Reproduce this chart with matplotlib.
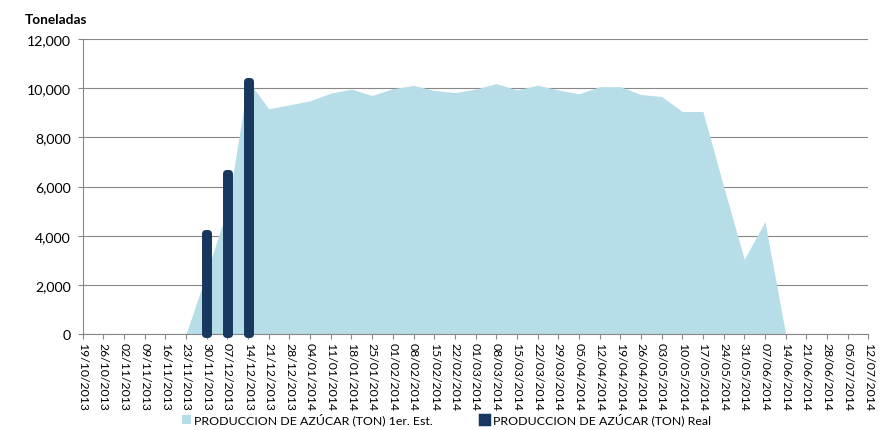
import matplotlib
matplotlib.use('Agg')
import matplotlib.pyplot as plt
from matplotlib.patches import Patch
import numpy as np

plt.rcParams['font.family'] = ['Lato', 'DejaVu Sans']

semanas = ['19/10/2013', '26/10/2013', '02/11/2013', '09/11/2013', '16/11/2013',
           '23/11/2013', '30/11/2013', '07/12/2013', '14/12/2013', '21/12/2013',
           '28/12/2013', '04/01/2014', '11/01/2014', '18/01/2014', '25/01/2014',
           '01/02/2014', '08/02/2014', '15/02/2014', '22/02/2014', '01/03/2014',
           '08/03/2014', '15/03/2014', '22/03/2014', '29/03/2014', '05/04/2014',
           '12/04/2014', '19/04/2014', '26/04/2014', '03/05/2014', '10/05/2014',
           '17/05/2014', '24/05/2014', '31/05/2014', '07/06/2014', '14/06/2014',
           '21/06/2014', '28/06/2014', '05/07/2014', '12/07/2014']

# 1er. estimado (ton)
estimado = [0, 0, 0, 0, 0, 0, 2500, 5100, 10300, 9160,
            9320, 9490, 9800, 9960, 9700, 9980, 10110, 9910, 9820, 9960,
            10190, 9930, 10120, 9930, 9770, 10060, 10060, 9740, 9660, 9050,
            9050, 6000, 3040, 4570, 0, 0, 0, 0, 0]

# produccion real (ton)
real_semanas = ['30/11/2013', '07/12/2013', '14/12/2013']
real_valores = [4100, 6550, 10300]

lbl_est = 'PRODUCCION DE AZÚCAR (TON) 1er. Est.'
lbl_real = 'PRODUCCION DE AZÚCAR (TON) Real'

c_area = '#b7dde8'
c_bar = '#17375e'
c_grid = '#878787'

fig = plt.figure(figsize=(8.82, 4.31), dpi=100)
ax = fig.add_axes([0.0938, 0.2227, 0.8907, 0.6845])

x = np.arange(len(semanas))
ax.fill_between(x, estimado, 0, color=c_area, lw=0, zorder=2)

xr = [semanas.index(s) for s in real_semanas]
ax.bar(xr, real_valores, width=0.15, color=c_bar, edgecolor=c_bar,
       linewidth=5.0, joinstyle='round', clip_on=False, zorder=3)

ax.set_xlim(0, len(semanas) - 1)
ax.set_ylim(0, 12000)
ax.set_yticks(np.arange(0, 12001, 2000))
ax.set_yticklabels([f'{v:,}' for v in range(0, 12001, 2000)], fontsize=10.2)
ax.set_xticks(x)
ax.set_xticklabels(semanas, rotation=270, fontsize=8.8)

ax.yaxis.grid(True, color=c_grid, lw=0.8, zorder=1)
ax.set_axisbelow(True)
for s in ['top', 'right']:
    ax.spines[s].set_visible(False)
ax.spines['left'].set_color(c_grid)
ax.spines['bottom'].set_color(c_grid)
ax.spines['left'].set_linewidth(0.8)
ax.spines['bottom'].set_linewidth(0.8)
ax.tick_params(axis='both', colors=c_grid, labelcolor='black', width=0.8, length=3.6)
ax.tick_params(axis='y', pad=5.0)
ax.tick_params(axis='x', pad=2)

fig.text(0.028, 0.953, 'Toneladas', fontsize=9.8, fontweight='bold', va='center')

h1 = Patch(facecolor=c_area, edgecolor=c_area, lw=0)
h2 = Patch(facecolor=c_bar, edgecolor=c_bar, lw=2.5, joinstyle='round')
fig.legend([h1, h2], [lbl_est, lbl_real], loc='center', ncol=2,
           bbox_to_anchor=(0.506, 0.025), frameon=False, fontsize=8.9,
           handlelength=0.7, handleheight=0.7, handletextpad=0.3,
           columnspacing=3.8)

fig.savefig('out.png', dpi=100)
